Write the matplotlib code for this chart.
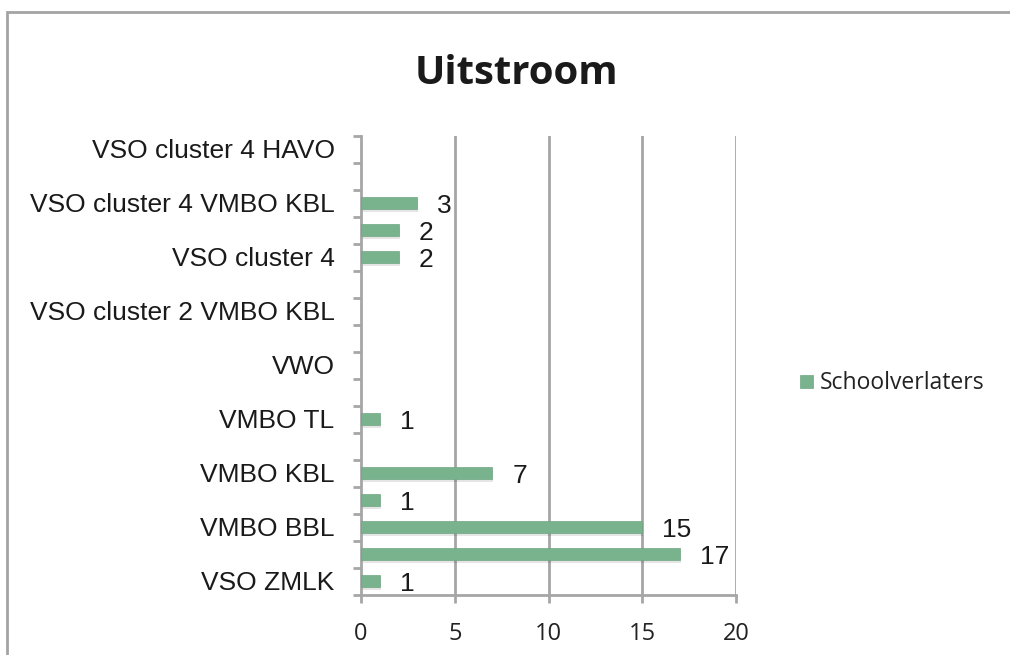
import numpy as np
import matplotlib
matplotlib.use('Agg')
import matplotlib.pyplot as plt
from matplotlib.patches import Rectangle

# categories bottom -> top; Excel only shows every other label
categories = ["VSO ZMLK", "Praktijkonderwijs", "VMBO BBL", "VMBO BBL/KBL",
              "VMBO KBL", "VMBO GL", "VMBO TL", "HAVO", "VWO", "VSO cluster 2",
              "VSO cluster 2 VMBO KBL", "VSO cluster 3", "VSO cluster 4",
              "VSO cluster 4 PrO", "VSO cluster 4 VMBO KBL", "VSO cluster 4 VMBO TL",
              "VSO cluster 4 HAVO"]
schoolverlaters = [1, 17, 15, 1, 7, None, 1, None, None, None, None, None, 2, 2, 3, None, None]
series_name = "Schoolverlaters"
title = "Uitstroom"
xticks = [0, 5, 10, 15, 20]

bar_col = '#78b38d'
grid_col = '#a6a6a6'

fig = plt.figure(figsize=(10.1, 6.55), dpi=100)
# outer chart border (cut off at right / bottom like the screenshot)
fig.patches.append(Rectangle((7/1010, -0.05), 1.1, 1 - 12/655 + 0.05,
                             transform=fig.transFigure, fill=False,
                             edgecolor='#a3a3a3', linewidth=2))

ax = fig.add_axes([361/1010, 1 - 594.5/655, 375/1010, 459/655])

y = np.arange(len(categories))
vals = [v if v is not None else 0 for v in schoolverlaters]
has = [v is not None for v in schoolverlaters]

# soft shadow then bar
for yi, v, h in zip(y, vals, has):
    if not h:
        continue
    ax.barh(yi - 0.1, v + 0.06, height=0.45, left=0, color='#000000', alpha=0.10,
            linewidth=0, zorder=2)
    ax.barh(yi, v, height=0.45, left=0, color=bar_col, edgecolor='#6fa582',
            linewidth=0.5, zorder=3)
    ax.text(v + 1.07, yi - 0.1, str(v), ha='left', va='center', fontsize=19,
            family='Liberation Sans', color='#1a1a1a')

ax.set_xlim(0, 20)
ax.set_ylim(-0.5, len(categories) - 0.5)
ax.set_xticks(xticks)
ax.set_xticklabels([str(t) for t in xticks], family='Open Sans', fontsize=17,
                   color='#222222')
ax.set_yticks(y[::2])
ax.set_yticklabels(categories[::2], family='Liberation Sans', fontsize=19,
                   color='#1a1a1a')
ax.tick_params(axis='y', length=0, pad=19)
ax.tick_params(axis='x', length=6, width=2, color=grid_col, pad=14)

# boundary ticks on category axis
ax.set_yticks(np.arange(-0.5, len(categories)), minor=True)
ax.tick_params(axis='y', which='minor', length=6, width=2, color=grid_col)

for x in xticks[1:]:
    ax.axvline(x, color=grid_col, linewidth=2, zorder=1)

for s in ['top', 'right']:
    ax.spines[s].set_visible(False)
for s in ['left', 'bottom']:
    ax.spines[s].set_color(grid_col)
    ax.spines[s].set_linewidth(2)

fig.text(516/1010, 1 - 73/655, title, ha='center', va='center', fontsize=29,
         fontweight='bold', family='Open Sans', color='#1a1a1a')

# legend
fig.patches.append(Rectangle((800/1010, 1 - 388/655), 13/1010, 13/655,
                             transform=fig.transFigure, facecolor=bar_col,
                             edgecolor='#6fa582', linewidth=0.5))
fig.text(820/1010, 1 - 383/655, series_name, ha='left', va='center', fontsize=16.5,
         family='Open Sans', color='#222222')

fig.savefig('out.png', dpi=100)
